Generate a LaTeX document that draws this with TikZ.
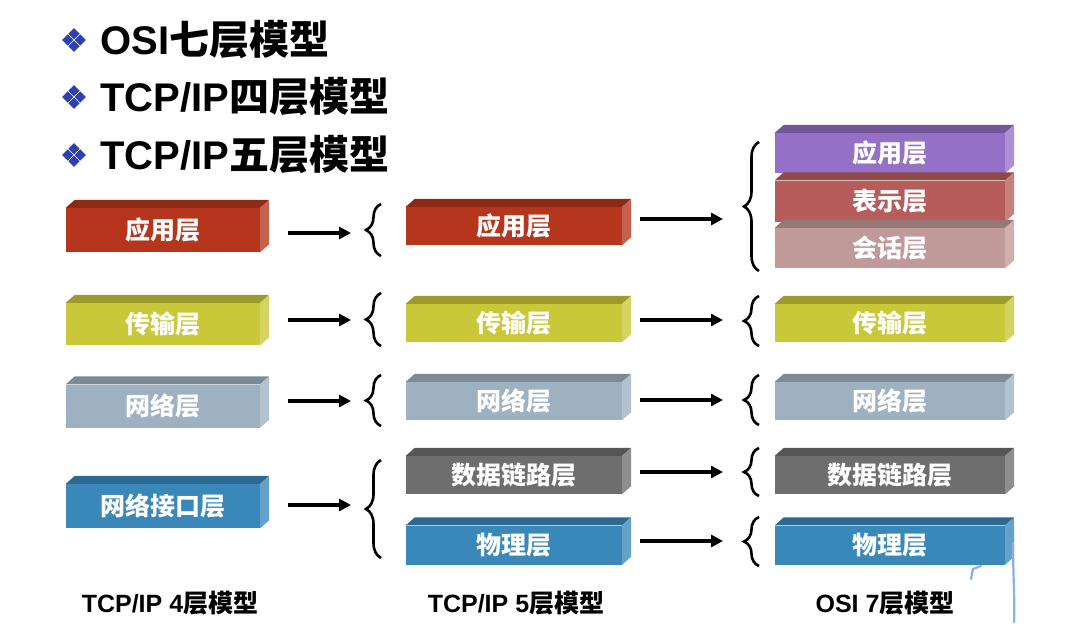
\documentclass[tikz,border=0pt]{standalone}
\usepackage{fontspec}
\setmainfont{Liberation Sans}
\newfontfamily\cjk{Noto Sans CJK SC}
\usetikzlibrary{decorations.pathreplacing,arrows.meta}
\definecolor{appred}{HTML}{B5361C}
\definecolor{tryel}{HTML}{C8C838}
\definecolor{netgr}{HTML}{9DB1C1}
\definecolor{ifblue}{HTML}{3A88BA}
\definecolor{dlgray}{HTML}{6E6E6E}
\definecolor{osipur}{HTML}{9470C6}
\definecolor{prered}{HTML}{B65C5A}
\definecolor{sesrose}{HTML}{C09A98}
\definecolor{bullet}{HTML}{2E3FB0}
\definecolor{scribble}{HTML}{8AB0E8}
\tikzset{
  lyrnode/.style={draw=none, inner sep=0pt, text=white,
    font=\cjk\bfseries\fontsize{25}{25}\selectfont},
  arr/.style={line width=4pt, -{Triangle[length=12pt,width=12pt]}},
  brc/.style={line width=2.6pt, decorate, decoration={brace, amplitude=15pt}},
  title/.style={anchor=west, inner sep=0pt, font=\bfseries\fontsize{40}{40}\selectfont},
  caption/.style={inner sep=0pt, font=\bfseries\fontsize{25}{25}\selectfont},
}
\newcommand\lyr[7]{%
  \node[lyrnode, fill=#6, minimum width=#4pt, minimum height=#5pt] (#1) at (#2,#3) {#7};
  \fill[#6!78!black] (#1.north west) -- ++(9,-8) -- ([shift={(9,-8)}]#1.north east) -- (#1.north east) -- cycle;
  \fill[#6!78!white] (#1.north east) -- ++(9,-8) -- ([shift={(9,-8)}]#1.south east) -- (#1.south east) -- cycle;
}
\newcommand\bul[2]{%
  \foreach \dx/\dy in {0/-6.3,0/6.3,-6.3/0,6.3/0}
    \fill[bullet] (#1+\dx,#2+\dy) ++(0,-5.6) -- ++(5.6,5.6) -- ++(-5.6,5.6) -- ++(-5.6,-5.6) -- cycle;
}
\begin{document}
\begin{tikzpicture}[x=1pt,y=-1pt]
\useasboundingbox (0,0) rectangle (1082,642);
\fill[white] (0,0) rectangle (1082,642);

% titles
\bul{74}{40}
\node[title] (t1) at (100,40) {OSI{\cjk\bfseries 七层模型}};
\bul{74}{97}
\node[title] (t2) at (100,97) {TCP/IP{\cjk\bfseries 四层模型}};
\bul{74}{155}
\node[title] (t3) at (100,155) {TCP/IP{\cjk\bfseries 五层模型}};

% column 1
\lyr{c1app}{163}{230}{194}{44}{appred}{应用层}
\lyr{c1tr}{163}{324}{194}{42}{tryel}{传输层}
\lyr{c1net}{163}{406}{194}{43}{netgr}{网络层}
\lyr{c1if}{163}{506}{194}{44}{ifblue}{网络接口层}

% column 2
\lyr{c2app}{514}{226}{216}{38}{appred}{应用层}
\lyr{c2tr}{514}{323}{216}{38}{tryel}{传输层}
\lyr{c2net}{514}{401}{216}{38}{netgr}{网络层}
\lyr{c2dl}{514}{475}{216}{38}{dlgray}{数据链路层}
\lyr{c2ph}{514}{545}{216}{39}{ifblue}{物理层}

% column 3
\lyr{c3app}{890}{153}{230}{40}{osipur}{应用层}
\lyr{c3pre}{890}{201}{230}{41}{prered}{表示层}
\lyr{c3ses}{890}{248}{230}{40}{sesrose}{会话层}
\lyr{c3tr}{890}{323}{230}{38}{tryel}{传输层}
\lyr{c3net}{890}{401}{230}{38}{netgr}{网络层}
\lyr{c3dl}{890}{475}{230}{38}{dlgray}{数据链路层}
\lyr{c3ph}{890}{545}{230}{39}{ifblue}{物理层}

% braces column 1->2
\coordinate (b1t) at (381,204); \coordinate (b1b) at (381,256);
\coordinate (b2t) at (381,293); \coordinate (b2b) at (381,346);
\coordinate (b3t) at (381,375); \coordinate (b3b) at (381,426);
\coordinate (b4t) at (381,460); \coordinate (b4b) at (381,558);
\draw[brc] (b1b) -- (b1t);
\draw[brc] (b2b) -- (b2t);
\draw[brc] (b3b) -- (b3t);
\draw[brc] (b4b) -- (b4t);

% braces column 2->3
\coordinate (d1t) at (759,142); \coordinate (d1b) at (759,271);
\coordinate (d2t) at (759,296); \coordinate (d2b) at (759,346);
\coordinate (d3t) at (759,375); \coordinate (d3b) at (759,425);
\coordinate (d4t) at (759,448); \coordinate (d4b) at (759,496);
\coordinate (d5t) at (759,517); \coordinate (d5b) at (759,566);
\draw[brc] (d1b) -- (d1t);
\draw[brc] (d2b) -- (d2t);
\draw[brc] (d3b) -- (d3t);
\draw[brc] (d4b) -- (d4t);
\draw[brc] (d5b) -- (d5t);

% arrow ends
\coordinate (e1) at (351,233);
\coordinate (e2) at (351,320);
\coordinate (e3) at (351,401);
\coordinate (e4) at (351,505);
\coordinate (f1) at (723,219);
\coordinate (f2) at (723,320);
\coordinate (f3) at (723,400);
\coordinate (f4) at (723,472);
\coordinate (f5) at (723,541);

\draw[arr] (c1app.east |- e1) ++(28,0) -- (e1);
\draw[arr] (c1tr.east |- e2) ++(28,0) -- (e2);
\draw[arr] (c1net.east |- e3) ++(28,0) -- (e3);
\draw[arr] (c1if.east |- e4) ++(28,0) -- (e4);
\draw[arr] (c2app.east |- f1) ++(18,0) -- (f1);
\draw[arr] (c2tr.east |- f2) ++(18,0) -- (f2);
\draw[arr] (c2net.east |- f3) ++(18,0) -- (f3);
\draw[arr] (c2dl.east |- f4) ++(18,0) -- (f4);
\draw[arr] (c2ph.east |- f5) ++(18,0) -- (f5);

% captions
\node[caption] (cap1) at (170,603) {TCP/IP 4{\cjk\bfseries 层模型}};
\node[caption] (cap2) at (516,603) {TCP/IP 5{\cjk\bfseries 层模型}};
\node[caption] (cap3) at (885,603) {OSI 7{\cjk\bfseries 层模型}};

% hand-drawn blue stroke
\draw[scribble, line width=2.2pt, line cap=round] (1013,543) .. controls (1013,575) and (1015,600) .. (1014,622);
\draw[scribble, line width=2.2pt, line cap=round] (971,579) -- (973,569) -- (981,566);
\end{tikzpicture}
\end{document}
